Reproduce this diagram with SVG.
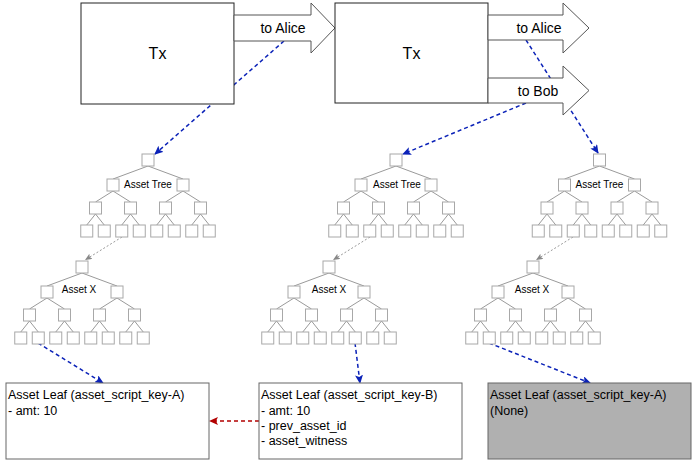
<svg xmlns="http://www.w3.org/2000/svg" xmlns:xlink="http://www.w3.org/1999/xlink" width="700" height="469" viewBox="0 0 700 469">
<style>
text{font-family:"Liberation Sans",Arial,Helvetica,sans-serif;fill:#000}
.tx{fill:#fff;stroke:#222;stroke-width:1}
.out{fill:#fff;stroke:#555;stroke-width:1}
.lbl{font-size:14px;text-anchor:middle}
.big{font-size:16px;text-anchor:middle}
.tl{font-size:10px;text-anchor:middle}
.leaf{fill:#fff;stroke:#666;stroke-width:1}
.gleaf{fill:#b0b0b0;stroke:#666;stroke-width:1}
.lt{font-size:12.5px}
.tb{fill:#fff;stroke:#a8a8a8;stroke-width:1}
.te{stroke:#9a9a9a;stroke-width:1;fill:none}
.blue{stroke:#0b22b8;stroke-width:1.5;stroke-dasharray:4 3;fill:none;marker-end:url(#ab)}
.red{stroke:#b20000;stroke-width:1.5;stroke-dasharray:4 3;fill:none;marker-end:url(#ar)}
.dot{stroke:#999;stroke-width:1;stroke-dasharray:2 2;fill:none;marker-end:url(#ag)}
</style>
<defs>
<marker id="ab" markerWidth="10" markerHeight="8" refX="8" refY="4" orient="auto" markerUnits="userSpaceOnUse"><path d="M0,0 L9,4 L0,8 L2,4 Z" fill="#0b22b8"/></marker>
<marker id="ar" markerWidth="10" markerHeight="8" refX="8" refY="4" orient="auto" markerUnits="userSpaceOnUse"><path d="M0,0 L9,4 L0,8 L2,4 Z" fill="#b20000"/></marker>
<marker id="ag" markerWidth="8" markerHeight="6" refX="7" refY="3" orient="auto" markerUnits="userSpaceOnUse"><path d="M0,0 L7,3 L0,6 L1.5,3 Z" fill="#888"/></marker>
<g id="tree">
<path class="te" d="M0,12 L-35,25 M0,12 L35,25 M-35,37 L-52.5,48 M-35,37 L-17.5,48 M35,37 L17.5,48 M35,37 L52.5,48 M-52.5,60 L-61.25,71 M-52.5,60 L-43.75,71 M-17.5,60 L-26.25,71 M-17.5,60 L-8.75,71 M17.5,60 L8.75,71 M17.5,60 L26.25,71 M52.5,60 L43.75,71 M52.5,60 L61.25,71"/>
<rect class="tb" x="-6" y="0" width="12" height="12"/>
<rect class="tb" x="-41" y="25" width="12" height="12"/>
<rect class="tb" x="29" y="25" width="12" height="12"/>
<rect class="tb" x="-58.5" y="48" width="12" height="12"/>
<rect class="tb" x="-23.5" y="48" width="12" height="12"/>
<rect class="tb" x="11.5" y="48" width="12" height="12"/>
<rect class="tb" x="46.5" y="48" width="12" height="12"/>
<rect class="tb" x="-67.25" y="71" width="12" height="12"/>
<rect class="tb" x="-49.75" y="71" width="12" height="12"/>
<rect class="tb" x="-32.25" y="71" width="12" height="12"/>
<rect class="tb" x="-14.75" y="71" width="12" height="12"/>
<rect class="tb" x="2.75" y="71" width="12" height="12"/>
<rect class="tb" x="20.25" y="71" width="12" height="12"/>
<rect class="tb" x="37.75" y="71" width="12" height="12"/>
<rect class="tb" x="55.25" y="71" width="12" height="12"/>
</g>
</defs>
<rect width="700" height="469" fill="#fff"/>

<g id="connectors">
<line class="blue" x1="284" y1="41" x2="155" y2="154"/>
<line class="blue" x1="526" y1="40" x2="598" y2="153"/>
<line class="blue" x1="526" y1="103" x2="403" y2="154"/>
<line class="blue" x1="38" y1="343" x2="103" y2="383"/>
<line class="blue" x1="355" y1="343" x2="360" y2="383"/>
<line class="blue" x1="489" y1="343" x2="590" y2="383"/>
<line class="red" x1="259" y1="421" x2="210" y2="421"/>
<line class="dot" x1="122" y1="237" x2="85" y2="260"/>
<line class="dot" x1="370" y1="237" x2="333" y2="260"/>
<line class="dot" x1="573" y1="237" x2="536" y2="260"/>
</g>

<g id="tx1"><rect class="tx" x="81" y="3" width="153" height="101"/><text class="big" x="157.5" y="59">Tx</text></g>
<g id="out1"><polygon class="out" points="234,15 311,15 311,3 335,28 311,53 311,41 234,41"/><text class="lbl" x="283" y="33">to Alice</text></g>
<g id="tx2"><rect class="tx" x="335" y="3" width="153" height="100"/><text class="big" x="411.5" y="59">Tx</text></g>
<g id="out2"><polygon class="out" points="488,15 563,15 563,3 589,28 563,53 563,40 488,40"/><text class="lbl" x="539" y="33">to Alice</text></g>
<g id="out3"><polygon class="out" points="488,78 563,78 563,66 589,90.5 563,115 563,103 488,103"/><text class="lbl" x="538" y="96">to Bob</text></g>

<g id="assetTree1"><use xlink:href="#tree" href="#tree" x="148" y="154"/><text class="tl" x="148" y="187.5">Asset Tree</text></g>
<g id="assetTree2"><use xlink:href="#tree" href="#tree" x="396" y="154"/><text class="tl" x="397" y="187.5">Asset Tree</text></g>
<g id="assetTree3"><use xlink:href="#tree" href="#tree" x="599.5" y="154"/><text class="tl" x="599.5" y="187.5">Asset Tree</text></g>
<g id="assetX1"><use xlink:href="#tree" href="#tree" x="82" y="261"/><text class="tl" x="79" y="292.5">Asset X</text></g>
<g id="assetX2"><use xlink:href="#tree" href="#tree" x="329" y="261"/><text class="tl" x="329" y="292.5">Asset X</text></g>
<g id="assetX3"><use xlink:href="#tree" href="#tree" x="533" y="261"/><text class="tl" x="532" y="292.5">Asset X</text></g>

<g id="leafA"><rect class="leaf" x="6" y="383" width="203" height="76"/>
<text class="lt" x="8" y="399">Asset Leaf (asset_script_key-A)</text>
<text class="lt" x="8" y="414.5">- amt: 10</text></g>
<g id="leafB"><rect class="leaf" x="259" y="383" width="203" height="76"/>
<text class="lt" x="261" y="399">Asset Leaf (asset_script_key-B)</text>
<text class="lt" x="261" y="414.5">- amt: 10</text>
<text class="lt" x="261" y="430">- prev_asset_id</text>
<text class="lt" x="261" y="445">- asset_witness</text></g>
<g id="leafNone"><rect class="gleaf" x="488" y="383" width="203" height="76"/>
<text class="lt" x="490" y="399">Asset Leaf (asset_script_key-A)</text>
<text class="lt" x="490" y="414.5">(None)</text></g>
</svg>
